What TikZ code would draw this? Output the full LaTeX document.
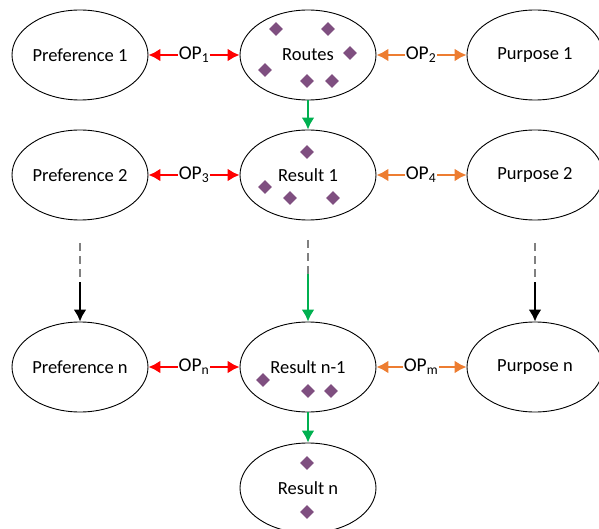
\documentclass[tikz,border=0pt]{standalone}
\usepackage{fontspec}
\setmainfont{Carlito}
\usetikzlibrary{shapes.geometric,arrows.meta}
\definecolor{opred}{HTML}{FF0000}
\definecolor{oporange}{HTML}{ED7D31}
\definecolor{opgreen}{HTML}{00B050}
\definecolor{dia}{HTML}{7F4F80}
\definecolor{dgray}{HTML}{808080}
\begin{document}
\begin{tikzpicture}[x=1pt,y=-1pt,
 ell/.style={ellipse,draw,line width=0.9pt,minimum width=136pt,minimum height=90pt,inner sep=0pt,font=\fontsize{18.5}{20}\selectfont},
 oplab/.style={inner sep=0.5pt,font=\fontsize{19.5}{21}\selectfont},
 tip/.style={-{Latex[length=12pt,width=13pt]}},
 redarr/.style={tip,draw=opred,line width=2.2pt},
 orarr/.style={tip,draw=oporange,line width=2.2pt},
 grarr/.style={tip,draw=opgreen,line width=2.2pt},
 blarr/.style={tip,draw=black,line width=2.2pt},
 dashgray/.style={draw=dgray,line width=1.4pt,dash pattern=on 8pt off 5pt},
 dmd/.style={diamond,fill=dia,inner sep=0pt,minimum size=14pt}]
\useasboundingbox (0,0) rectangle (599,529);
% row 1
\node[ell] (p1) at (80,55) {Preference 1};
\node[ell] (routes) at (308,55) {Routes};
\node[ell] (u1) at (535,55) {Purpose 1};
% row 2
\node[ell] (p2) at (80,175) {Preference 2};
\node[ell] (r1) at (308,175) {Result 1};
\node[ell] (u2) at (535,175) {Purpose 2};
% row 3
\node[ell] (pn) at (80,367) {Preference n};
\node[ell] (rn1) at (308,367) {Result n-1};
\node[ell] (un) at (535,367) {Purpose n};
% row 4
\node[ell] (rn) at (308,488) {Result n};
% diamonds
\node[dmd] (a1) at (276,29) {};
\node[dmd] (a2) at (328,29) {};
\node[dmd] (a3) at (350,53) {};
\node[dmd] (a4) at (265,70) {};
\node[dmd] (a5) at (307,81) {};
\node[dmd] (a6) at (332,81) {};
\node[dmd] (b1) at (307,152) {};
\node[dmd] (b2) at (265,187) {};
\node[dmd] (b3) at (290,198) {};
\node[dmd] (b4) at (333,198) {};
\node[dmd] (c1) at (263,380) {};
\node[dmd] (c2) at (308,391) {};
\node[dmd] (c3) at (331,391) {};
\node[dmd] (e1) at (307,463) {};
\node[dmd] (e2) at (307,512) {};
% OP labels
\node[oplab] (op1) at (194,55) {OP\textsubscript{1}};
\node[oplab] (op2) at (421,55) {OP\textsubscript{2}};
\node[oplab] (op3) at (194,175) {OP\textsubscript{3}};
\node[oplab] (op4) at (421,175) {OP\textsubscript{4}};
\node[oplab] (opn) at (194,367) {OP\textsubscript{n}};
\node[oplab] (opm) at (421,367) {OP\textsubscript{m}};
\draw[redarr] (op1.west) -- (p1.east);
\draw[redarr] (op1.east) -- (routes.west);
\draw[orarr] (op2.west) -- (routes.east);
\draw[orarr] (op2.east) -- (u1.west);
\draw[redarr] (op3.west) -- (p2.east);
\draw[redarr] (op3.east) -- (r1.west);
\draw[orarr] (op4.west) -- (r1.east);
\draw[orarr] (op4.east) -- (u2.west);
\draw[redarr] (opn.west) -- (pn.east);
\draw[redarr] (opn.east) -- (rn1.west);
\draw[orarr] (opm.west) -- (rn1.east);
\draw[orarr] (opm.east) -- (un.west);
% vertical
\draw[grarr] (routes.south) -- (r1.north);
\draw[grarr] (rn1.south) -- (rn.north);
\coordinate (ls) at (80,243);
\coordinate (lm) at (80,282);
\coordinate (ms) at (308,240);
\coordinate (mm) at (308,274);
\coordinate (rs) at (535,243);
\coordinate (rm) at (535,282);
\draw[dashgray] (ls) -- (lm);
\draw[blarr] (lm) -- (pn.north);
\draw[dashgray] (ms) -- (mm);
\draw[grarr] (mm) -- (rn1.north);
\draw[dashgray] (rs) -- (rm);
\draw[blarr] (rm) -- (un.north);
\end{tikzpicture}
\end{document}
